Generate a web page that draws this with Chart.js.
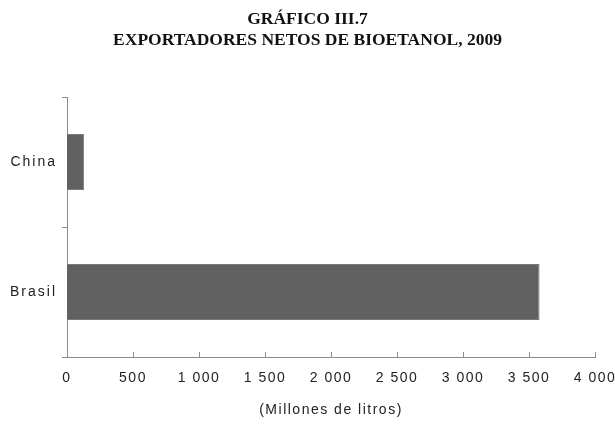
<!DOCTYPE html>
<html>
<head>
<meta charset="utf-8">
<script src="https://cdn.jsdelivr.net/npm/chart.js@4"></script>
<style>
  html, body { margin: 0; padding: 0; background: #fff; }
  #wrap { width: 615px; height: 436px; }
</style>
</head>
<body>
<div id="wrap"><canvas id="chart" width="615" height="436"></canvas></div>
<script>
// data
const countries = ["China", "Brasil"];
const exports2009 = [130, 3580];
const xTicks = [0, 500, 1000, 1500, 2000, 2500, 3000, 3500, 4000];

const titleLines = ["GRÁFICO III.7", "EXPORTADORES NETOS DE BIOETANOL, 2009"];
const axisTitle = "(Millones de litros)";

const axisColor = "#8c8c8c";
const textColor = "#222";
const sans = "'Liberation Sans', Arial, sans-serif";

function spaced(v) {
  return String(v).replace(/\B(?=(\d{3})+(?!\d))/g, " ");
}

// x ticks point up into the plot, so draw them by hand
const innerTicks = {
  id: "innerTicks",
  afterDraw(chart) {
    const x = chart.scales.x;
    const ctx = chart.ctx;
    const bottom = chart.chartArea.bottom;
    ctx.save();
    ctx.strokeStyle = axisColor;
    ctx.lineWidth = 1;
    xTicks.forEach(v => {
      const px = Math.round(x.getPixelForValue(v)) + 0.5;
      ctx.beginPath();
      ctx.moveTo(px, bottom);
      ctx.lineTo(px, bottom - 5);
      ctx.stroke();
    });
    ctx.restore();
  }
};

// the scanned axis text is loosely tracked
const letterSpacing = {
  id: "letterSpacing",
  beforeDraw(chart) {
    Object.values(chart.scales).forEach(scale => {
      if (scale._spaced) return;
      scale._spaced = true;
      ["drawLabels", "drawTitle"].forEach(fn => {
        const orig = scale[fn];
        scale[fn] = function () {
          const ctx = this.ctx;
          ctx.save();
          ctx.letterSpacing = this.axis === "y" ? "2px" : "1.5px";
          orig.apply(this, arguments);
          ctx.restore();
        };
      });
    });
  }
};

const chart = new Chart(document.getElementById("chart"), {
  type: "bar",
  data: {
    labels: countries,
    datasets: [{
      data: exports2009,
      backgroundColor: "#616161",
      borderColor: "#7a7a7a",
      borderWidth: 1,
      barPercentage: 0.43,
      categoryPercentage: 1
    }]
  },
  options: {
    indexAxis: "y",
    responsive: false,
    animation: false,
    layout: { padding: 0 },
    plugins: {
      legend: { display: false },
      tooltip: { enabled: false },
      title: {
        display: true,
        text: titleLines,
        color: "#111",
        font: { family: "'Liberation Serif', 'DejaVu Serif', serif", size: 17.5, weight: "bold", lineHeight: 1.2 },
        padding: { top: 9, bottom: 46 }
      }
    },
    scales: {
      x: {
        min: 0,
        max: 4000,
        afterBuildTicks(scale) {
          scale.ticks = xTicks.map(v => ({ value: v }));
        },
        afterFit(scale) {
          scale.height = 79;
          scale.paddingLeft = 0;
          scale.paddingRight = 20;
        },
        grid: { display: false },
        border: { display: true, color: axisColor, width: 1 },
        ticks: {
          color: textColor,
          padding: 5,
          maxRotation: 0,
          font: { family: sans, size: 14 },
          callback: v => spaced(v)
        },
        title: {
          display: true,
          text: axisTitle,
          color: textColor,
          font: { family: sans, size: 14 },
          padding: { top: 4, bottom: 17 }
        }
      },
      y: {
        afterFit(scale) { scale.width = 67; },
        grid: {
          display: true,
          offset: true,
          drawOnChartArea: false,
          tickLength: 5,
          color: axisColor
        },
        border: { display: true, color: axisColor, width: 1 },
        ticks: {
          color: textColor,
          padding: 5,
          font: { family: sans, size: 14 }
        }
      }
    }
  },
  plugins: [innerTicks, letterSpacing]
});
chart.draw();
</script>
</body>
</html>
